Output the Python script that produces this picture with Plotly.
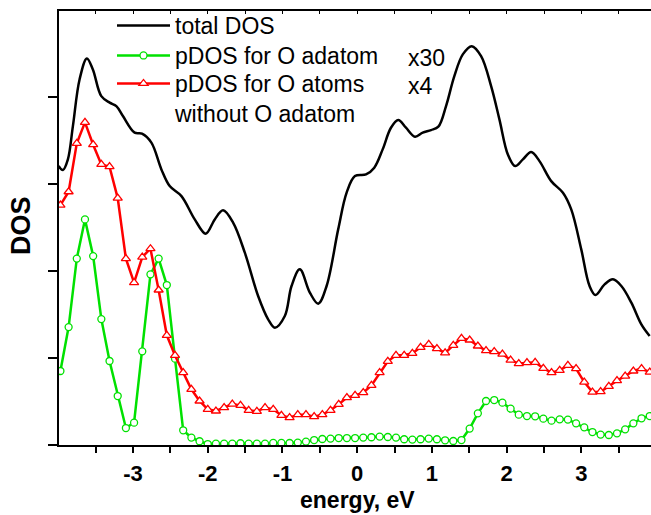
import plotly.graph_objects as go

# Energy grid of the projected DOS samples (eV)
ENERGY = [round(-2 + 0.1095 * k, 4) for k in range(-18, 55)]

PDOS_ADATOM_X30 = [
    0.851, 1.356, 2.143, 2.594, 2.172, 1.448, 0.966, 0.563, 0.195, 0.257,
    1.077, 1.962, 2.143, 1.839, 0.993, 0.169, 0.085, 0.043, 0.011, 0.016,
    0.016, 0.016, 0.020, 0.016, 0.016, 0.016, 0.024, 0.024, 0.023, 0.028,
    0.039, 0.057, 0.069, 0.074, 0.080, 0.080, 0.080, 0.085, 0.089, 0.097,
    0.092, 0.085, 0.066, 0.062, 0.066, 0.074, 0.066, 0.054, 0.046, 0.057,
    0.189, 0.364, 0.506, 0.517, 0.487, 0.418, 0.349, 0.333, 0.330, 0.303,
    0.280, 0.295, 0.292, 0.249, 0.203, 0.149, 0.120, 0.115, 0.134, 0.180,
    0.249, 0.307, 0.333,
]

PDOS_O_ATOMS_X4 = [
    2.759, 2.912, 3.468, 3.710, 3.453, 3.226, 3.200, 2.839, 2.143, 1.867,
    2.161, 2.257, 1.782, 1.261, 1.030, 0.832, 0.640, 0.506, 0.410, 0.391,
    0.430, 0.471, 0.456, 0.399, 0.387, 0.430, 0.410, 0.341, 0.314, 0.349,
    0.349, 0.326, 0.349, 0.399, 0.468, 0.545, 0.571, 0.602, 0.686, 0.832,
    0.962, 1.031, 1.031, 1.054, 1.123, 1.157, 1.108, 1.059, 1.146, 1.226,
    1.207, 1.138, 1.085, 1.074, 1.046, 0.977, 0.936, 0.947, 0.951, 0.882,
    0.832, 0.859, 0.916, 0.878, 0.724, 0.609, 0.613, 0.675, 0.740, 0.793,
    0.851, 0.878, 0.839,
]

TOTAL_E = [
    -3.996, -3.938, -3.871, -3.804, -3.715, -3.617, -3.537, -3.424, -3.312, -3.223,
    -3.135, -2.978, -2.880, -2.754, -2.620, -2.509, -2.352, -2.174, -2.027, -1.906,
    -1.795, -1.661, -1.504, -1.326, -1.192, -1.102, -0.969, -0.879, -0.768, -0.634,
    -0.522, -0.410, -0.255, -0.142, -0.031, 0.117, 0.228, 0.340, 0.451, 0.549,
    0.652, 0.773, 0.876, 0.987, 1.085, 1.188, 1.299, 1.412, 1.532, 1.657,
    1.791, 1.902, 2.015, 2.113, 2.216, 2.327, 2.438, 2.595, 2.752, 2.863,
    2.997, 3.108, 3.188, 3.309, 3.421, 3.533, 3.667, 3.801, 3.912,
]
TOTAL_DOS = [
    3.207, 3.161, 3.284, 3.667, 4.203, 4.445, 4.318, 4.011, 3.936, 3.897,
    3.782, 3.591, 3.579, 3.476, 3.169, 2.977, 2.862, 2.594, 2.430, 2.594,
    2.698, 2.556, 2.211, 1.713, 1.445, 1.349, 1.483, 1.828, 2.020, 1.752,
    1.625, 1.828, 2.479, 2.901, 3.092, 3.111, 3.189, 3.399, 3.648, 3.736,
    3.648, 3.545, 3.591, 3.621, 3.660, 3.897, 4.241, 4.491, 4.586, 4.471,
    4.126, 3.744, 3.341, 3.207, 3.284, 3.368, 3.264, 3.034, 2.901, 2.709,
    2.249, 1.828, 1.724, 1.847, 1.905, 1.828, 1.637, 1.387, 1.253,
]

X_TICKS = [-3.5, -3, -2.5, -2, -1.5, -1, -0.5, 0, 0.5, 1, 1.5, 2, 2.5, 3, 3.5]
X_TICK_TEXT = ["", "-3", "", "-2", "", "-1", "", "0", "", "1", "", "2", "", "3", ""]
Y_TICKS = [0, 1, 2, 3, 4]

FONT = "Liberation Sans, Arial, sans-serif"
GREEN = "rgb(0,225,0)"
RED = "rgb(255,0,0)"

# plot area geometry in page pixels
PL, PT, PW, PH = 59, 11, 592, 434


def px(xp):
    return (xp - PL) / PW


def py(yp):
    return (PT + PH - yp) / PH


fig = go.Figure()
fig.add_trace(go.Scatter(
    x=TOTAL_E, y=TOTAL_DOS, mode="lines", name="total DOS", xaxis="x2",
    line=dict(color="black", width=2.5, shape="spline", smoothing=1.0),
    legend="legend",
))
fig.add_trace(go.Scatter(
    x=ENERGY, y=PDOS_ADATOM_X30, mode="lines+markers", name="pDOS for O adatom",
    line=dict(color=GREEN, width=2.5),
    marker=dict(symbol="circle", size=7, color="white", line=dict(color=GREEN, width=1.3)),
    legend="legend2",
))
fig.add_trace(go.Scatter(
    x=ENERGY, y=PDOS_O_ATOMS_X4, mode="lines+markers",
    name="pDOS for O atoms<br>without O adatom",
    line=dict(color=RED, width=2.5),
    marker=dict(symbol="triangle-up", size=8, color="white", line=dict(color=RED, width=1.3)),
    legend="legend3",
))

LEG_FONT = dict(family=FONT, size=23, color="black")


def leg(top):
    return dict(
        x=px(112), y=py(top), xanchor="left", yanchor="top",
        bgcolor="rgba(0,0,0,0)", borderwidth=0, valign="top",
        font=LEG_FONT, itemwidth=53,
    )


fig.update_layout(
    width=651, height=515,
    margin=dict(l=PL, r=651 - PL - PW, t=PT, b=515 - PT - PH),
    paper_bgcolor="white", plot_bgcolor="white",
    font=dict(family=FONT, color="black"),
    showlegend=True,
    legend=leg(25 - 21),
    legend2=leg(55 - 21),
    legend3=leg(83 - 21),
    xaxis=dict(
        range=[-3.99, 3.93], tickmode="array", tickvals=X_TICKS, ticktext=X_TICK_TEXT,
        ticks="outside", ticklen=6, tickwidth=1.5, tickcolor="black",
        showline=True, linecolor="black", linewidth=2, mirror=False,
        showgrid=False, zeroline=False, ticklabelstandoff=2,
        tickfont=dict(family=FONT, size=22, color="black", weight="bold"),
    ),
    xaxis2=dict(
        range=[-3.99, 3.93], overlaying="x", side="top", matches="x",
        tickmode="array", tickvals=X_TICKS, ticks="inside", ticklen=3, tickwidth=1,
        tickcolor="black", showticklabels=False,
        showline=True, linecolor="black", linewidth=1.5, showgrid=False, zeroline=False,
    ),
    yaxis=dict(
        range=[0, 4.99], tickmode="array", tickvals=Y_TICKS, showticklabels=False,
        ticks="outside", ticklen=9, tickwidth=2, tickcolor="black",
        showline=True, linecolor="black", linewidth=2,
        showgrid=False, zeroline=False,
    ),
    annotations=[
        dict(text="<b>energy, eV</b>", xref="paper", yref="paper",
             x=px(357), y=py(500), xanchor="center", yanchor="middle",
             showarrow=False, font=dict(family=FONT, size=23, color="black")),
        dict(text="<b>DOS</b>", xref="paper", yref="paper", textangle=-90,
             x=px(21), y=py(226), xanchor="center", yanchor="middle",
             showarrow=False, font=dict(family=FONT, size=27, color="black")),
        dict(text="x30", xref="paper", yref="paper",
             x=px(406), y=py(58), xanchor="left", yanchor="middle",
             showarrow=False, font=LEG_FONT),
        dict(text="x4", xref="paper", yref="paper",
             x=px(406), y=py(86), xanchor="left", yanchor="middle",
             showarrow=False, font=LEG_FONT),
    ],
)

fig.write_html(
    "out.html",
    config={"displayModeBar": False},
    post_script="document.body.style.margin='0';document.body.style.overflow='hidden';",
)
